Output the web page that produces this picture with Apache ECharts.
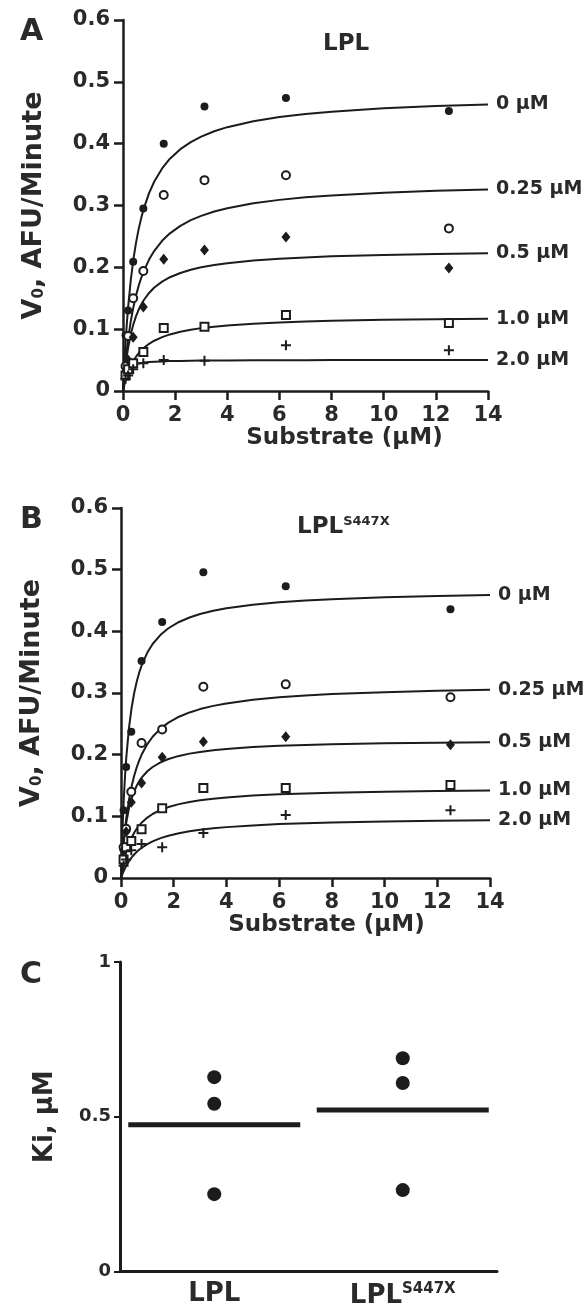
<!DOCTYPE html>
<html><head><meta charset="utf-8">
<script src="https://cdn.jsdelivr.net/npm/echarts@6/dist/echarts.min.js"></script>
<style>html,body{margin:0;padding:0;background:#fff}#c{width:586px;height:1309px}</style>
</head><body><div id="c"></div>
<script>
// ---------- data ----------
const substrate = [0.098, 0.195, 0.39, 0.78, 1.5625, 3.125, 6.25, 12.5];
const inhibitorLabels = ['0 µM', '0.25 µM', '0.5 µM', '1.0 µM', '2.0 µM'];
const xTicks = [0, 2, 4, 6, 8, 10, 12, 14];
const vTicks = [0, 0.1, 0.2, 0.3, 0.4, 0.5, 0.6];
const kiTicks = [0, 0.5, 1];

// Panel A (LPL) measured points
const lplPts0   = [0.09, 0.13, 0.209, 0.295, 0.400, 0.460, 0.474, 0.453];
const lplPts025 = [0.04, 0.089, 0.150, 0.194, 0.317, 0.341, 0.349, 0.263];
const lplPts05  = [0.03, 0.05, 0.087, 0.136, 0.213, 0.228, 0.249, 0.199];
const lplPts1   = [0.025, 0.035, 0.045, 0.063, 0.102, 0.104, 0.123, 0.110];
const lplPts2   = [0.02, 0.025, 0.035, 0.045, 0.050, 0.049, 0.074, 0.066];

// Fitted curves, values
const fitX = [0, 0.05, 0.1, 0.15, 0.2, 0.3, 0.4, 0.5, 0.6, 0.7, 0.8, 1, 1.2, 1.5, 1.8, 2.2, 2.6, 3, 3.5, 4, 5, 6, 7, 8, 10, 12, 14];
const lplFit0   = [0, 0.0436, 0.08, 0.1108, 0.1371, 0.18, 0.2133, 0.24, 0.2618, 0.28, 0.2954, 0.32, 0.3388, 0.36, 0.3757, 0.3911, 0.4026, 0.4114, 0.42, 0.4267, 0.4364, 0.4431, 0.448, 0.4518, 0.4571, 0.4608, 0.4634];
const lplFit025 = [0, 0.0262, 0.0486, 0.068, 0.085, 0.1133, 0.136, 0.1545, 0.17, 0.1831, 0.1943, 0.2125, 0.2267, 0.2429, 0.255, 0.2671, 0.2763, 0.2833, 0.2902, 0.2957, 0.3036, 0.3091, 0.3132, 0.3163, 0.3208, 0.3238, 0.326];
const lplFit05  = [0, 0.023, 0.0418, 0.0575, 0.0708, 0.092, 0.1082, 0.1211, 0.1314, 0.14, 0.1472, 0.1586, 0.1673, 0.1769, 0.184, 0.1909, 0.1961, 0.2, 0.2038, 0.2067, 0.211, 0.214, 0.2161, 0.2178, 0.2201, 0.2217, 0.2228];
const lplFit1   = [0, 0.0094, 0.0174, 0.0244, 0.0305, 0.0407, 0.0488, 0.0555, 0.061, 0.0657, 0.0697, 0.0763, 0.0813, 0.0871, 0.0915, 0.0959, 0.0991, 0.1017, 0.1041, 0.1061, 0.1089, 0.1109, 0.1124, 0.1135, 0.1151, 0.1162, 0.117];
const lplFit2   = [0, 0.0194, 0.0281, 0.0329, 0.0361, 0.0399, 0.0421, 0.0435, 0.0446, 0.0453, 0.0459, 0.0468, 0.0473, 0.0479, 0.0484, 0.0487, 0.049, 0.0492, 0.0494, 0.0495, 0.0497, 0.0498, 0.0499, 0.05, 0.0501, 0.0502, 0.0502];

// Panel B (LPL S447X) measured points
const mutPts0   = [0.11, 0.18, 0.237, 0.352, 0.415, 0.496, 0.473, 0.436];
const mutPts025 = [0.05, 0.08, 0.14, 0.219, 0.241, 0.31, 0.314, 0.293];
const mutPts05  = [0.045, 0.075, 0.123, 0.154, 0.196, 0.221, 0.229, 0.216];
const mutPts1   = [0.03, 0.05, 0.06, 0.079, 0.113, 0.146, 0.146, 0.151];
const mutPts2   = [0.02, 0.03, 0.045, 0.055, 0.05, 0.073, 0.102, 0.11];

const mutFit0   = [0, 0.0709, 0.1232, 0.1633, 0.195, 0.2421, 0.2753, 0.3, 0.3191, 0.3343, 0.3467, 0.3656, 0.3795, 0.3944, 0.405, 0.4152, 0.4225, 0.428, 0.4333, 0.4374, 0.4432, 0.4471, 0.45, 0.4522, 0.4553, 0.4573, 0.4588];
const mutFit025 = [0, 0.0315, 0.0573, 0.0788, 0.0969, 0.126, 0.1482, 0.1658, 0.18, 0.1917, 0.2016, 0.2172, 0.2291, 0.2423, 0.252, 0.2615, 0.2685, 0.2739, 0.2791, 0.2831, 0.289, 0.293, 0.296, 0.2982, 0.3014, 0.3036, 0.3052];
const mutFit05  = [0, 0.0321, 0.0563, 0.075, 0.09, 0.1125, 0.1286, 0.1406, 0.15, 0.1575, 0.1636, 0.1731, 0.18, 0.1875, 0.1929, 0.198, 0.2017, 0.2045, 0.2072, 0.2093, 0.2123, 0.2143, 0.2158, 0.2169, 0.2184, 0.2195, 0.2203];
const mutFit1   = [0, 0.0134, 0.0245, 0.0339, 0.042, 0.0551, 0.0653, 0.0735, 0.0802, 0.0858, 0.0905, 0.098, 0.1038, 0.1103, 0.115, 0.1198, 0.1233, 0.126, 0.1286, 0.1307, 0.1336, 0.1357, 0.1372, 0.1384, 0.14, 0.1411, 0.1419];
const mutFit2   = [0, 0.0058, 0.011, 0.0156, 0.0198, 0.027, 0.033, 0.0381, 0.0424, 0.0462, 0.0495, 0.055, 0.0594, 0.0646, 0.0685, 0.0726, 0.0757, 0.0782, 0.0806, 0.0825, 0.0853, 0.0874, 0.0888, 0.09, 0.0917, 0.0928, 0.0936];

// Panel C (Ki)
const kiCategories = ['LPL', 'LPL S447X'];
const kiCategoryLabels = ['LPL', 'LPL{sup|S447X}'];
const kiLPL = [0.628, 0.542, 0.25];
const kiMut = [0.689, 0.609, 0.263];
const kiMeans = [0.474, 0.522];

// ---------- styling ----------
const INK = '#1c1c1c';
const TXT = '#2a2a2a';
const FF = 'DejaVu Sans';
const plusPath = 'path://M4,0L6,0L6,4L10,4L10,6L6,6L6,10L4,10L4,6L0,6L0,4L4,4Z';
const markers = [
  {symbol: 'circle', symbolSize: 8, itemStyle: {color: INK, opacity: 1}},
  {symbol: 'circle', symbolSize: 8, itemStyle: {color: '#fff', borderColor: INK, borderWidth: 2, opacity: 1}},
  {symbol: 'diamond', symbolSize: [9, 11], itemStyle: {color: INK, opacity: 1}},
  {symbol: 'rect', symbolSize: 8, itemStyle: {color: '#fff', borderColor: INK, borderWidth: 2, opacity: 1}},
  {symbol: plusPath, symbolSize: 10, itemStyle: {color: INK, opacity: 1}}
];

function pair(xs, ys) { return xs.map((x, i) => [x, ys[i]]); }

function panelSeries(idx, fits, pts) {
  const out = [];
  fits.forEach((f, k) => {
    out.push({
      type: 'line', name: inhibitorLabels[k], xAxisIndex: idx, yAxisIndex: idx,
      data: pair(fitX, f), showSymbol: false, smooth: false,
      lineStyle: {color: INK, width: 2}, silent: true, z: 2,
      endLabel: {show: true, formatter: inhibitorLabels[k], distance: 8,
        color: TXT, fontFamily: FF, fontWeight: 'bold', fontSize: 19}
    });
  });
  pts.forEach((p, k) => {
    out.push(Object.assign({
      type: 'scatter', name: inhibitorLabels[k] + ' data', xAxisIndex: idx, yAxisIndex: idx,
      data: pair(substrate, p), z: 3
    }, markers[k]));
  });
  return out;
}

const axisLineStyle = {show: true, lineStyle: {color: INK, width: 2.5}};
const tickStyle = {show: true, inside: false, length: 9, lineStyle: {color: INK, width: 2.5}};
const labStyle = {color: TXT, fontFamily: FF, fontWeight: 'bold', fontSize: 21};

function valueX(gi, gapName, padLeft) {
  return {
    type: 'value', gridIndex: gi, min: 0, max: 14, interval: 2,
    axisLine: axisLineStyle, axisTick: tickStyle, splitLine: {show: false},
    axisLabel: Object.assign({margin: 14}, labStyle),
    name: 'Substrate (µM)', nameLocation: 'middle', nameGap: gapName,
    nameTextStyle: {color: TXT, fontFamily: FF, fontWeight: 'bold', fontSize: 23, padding: [0, 0, 0, padLeft]}
  };
}
function valueY(gi) {
  return {
    type: 'value', gridIndex: gi, min: 0, max: 0.6, interval: 0.1,
    axisLine: axisLineStyle, axisTick: tickStyle, splitLine: {show: false},
    axisLabel: Object.assign({margin: 13}, labStyle),
    name: 'V{s|0}, AFU/Minute', nameLocation: 'middle', nameGap: 76, nameRotate: 90,
    nameTextStyle: {color: TXT, fontFamily: FF, fontWeight: 'bold', fontSize: 27,
      rich: {s: {color: TXT, fontFamily: FF, fontWeight: 'bold', fontSize: 15, padding: [12, 0, 0, 0]}}}
  };
}

const titleStyle = (size) => ({color: TXT, fontFamily: FF, fontWeight: 'bold', fontSize: size});

const option = {
  animation: false,
  backgroundColor: '#fff',
  title: [
    {text: 'A', left: 15, top: 12, textStyle: titleStyle(30)},
    {text: 'LPL', left: 318, top: 28, textStyle: titleStyle(23)},
    {text: 'B', left: 15, top: 500, textStyle: titleStyle(30)},
    {text: 'LPL{sup|S447X}', left: 292, top: 510, textStyle: Object.assign(titleStyle(23), {
      rich: {sup: {color: TXT, fontFamily: FF, fontWeight: 'bold', fontSize: 13, padding: [0, 0, 12, 0]}}})},
    {text: 'C', left: 15, top: 955, textStyle: titleStyle(30)}
  ],
  grid: [
    {left: 123, right: 98, top: 20, height: 371},
    {left: 121, right: 96, top: 508, height: 370},
    {left: 120, right: 89, top: 962, height: 310}
  ],
  xAxis: [
    valueX(0, 32, 78),
    valueX(1, 34, 42),
    {
      type: 'category', gridIndex: 2, data: kiCategories,
      axisLine: {show: true, lineStyle: {color: INK, width: 3}},
      axisTick: {show: false}, splitLine: {show: false},
      axisLabel: {interval: 0, margin: 10, color: TXT, fontFamily: FF, fontWeight: 'bold', fontSize: 26,
        formatter: (v, i) => kiCategoryLabels[i],
        rich: {sup: {color: TXT, fontFamily: FF, fontWeight: 'bold', fontSize: 15, padding: [0, 0, 14, 0]}}}
    }
  ],
  yAxis: [
    valueY(0),
    valueY(1),
    {
      type: 'value', gridIndex: 2, min: 0, max: 1, interval: 0.5,
      axisLine: {show: true, lineStyle: {color: INK, width: 3}},
      axisTick: {show: true, length: 6, lineStyle: {color: INK, width: 2}},
      splitLine: {show: false},
      axisLabel: {margin: 9, color: TXT, fontFamily: FF, fontWeight: 'bold', fontSize: 18},
      name: 'Ki, µM', nameLocation: 'middle', nameGap: 62, nameRotate: 90,
      nameTextStyle: {color: TXT, fontFamily: FF, fontWeight: 'bold', fontSize: 26}
    }
  ],
  series: [].concat(
    panelSeries(0, [lplFit0, lplFit025, lplFit05, lplFit1, lplFit2], [lplPts0, lplPts025, lplPts05, lplPts1, lplPts2]),
    panelSeries(1, [mutFit0, mutFit025, mutFit05, mutFit1, mutFit2], [mutPts0, mutPts025, mutPts05, mutPts1, mutPts2]),
    [
      {type: 'scatter', name: 'Ki LPL', xAxisIndex: 2, yAxisIndex: 2, symbol: 'circle', symbolSize: 14,
        itemStyle: {color: INK, opacity: 1}, data: kiLPL.map(v => [0, v])},
      {type: 'scatter', name: 'Ki LPL S447X', xAxisIndex: 2, yAxisIndex: 2, symbol: 'circle', symbolSize: 14,
        itemStyle: {color: INK, opacity: 1}, data: kiMut.map(v => [1, v])},
      {type: 'scatter', name: 'Ki mean', xAxisIndex: 2, yAxisIndex: 2, symbol: 'rect', symbolSize: [172, 5],
        itemStyle: {color: INK, opacity: 1}, data: kiMeans.map((v, i) => [i, v]), z: 1}
    ]
  )
};

const chart = echarts.init(document.getElementById('c'), null, {renderer: 'canvas'});
chart.setOption(option);
</script>
</body></html>
